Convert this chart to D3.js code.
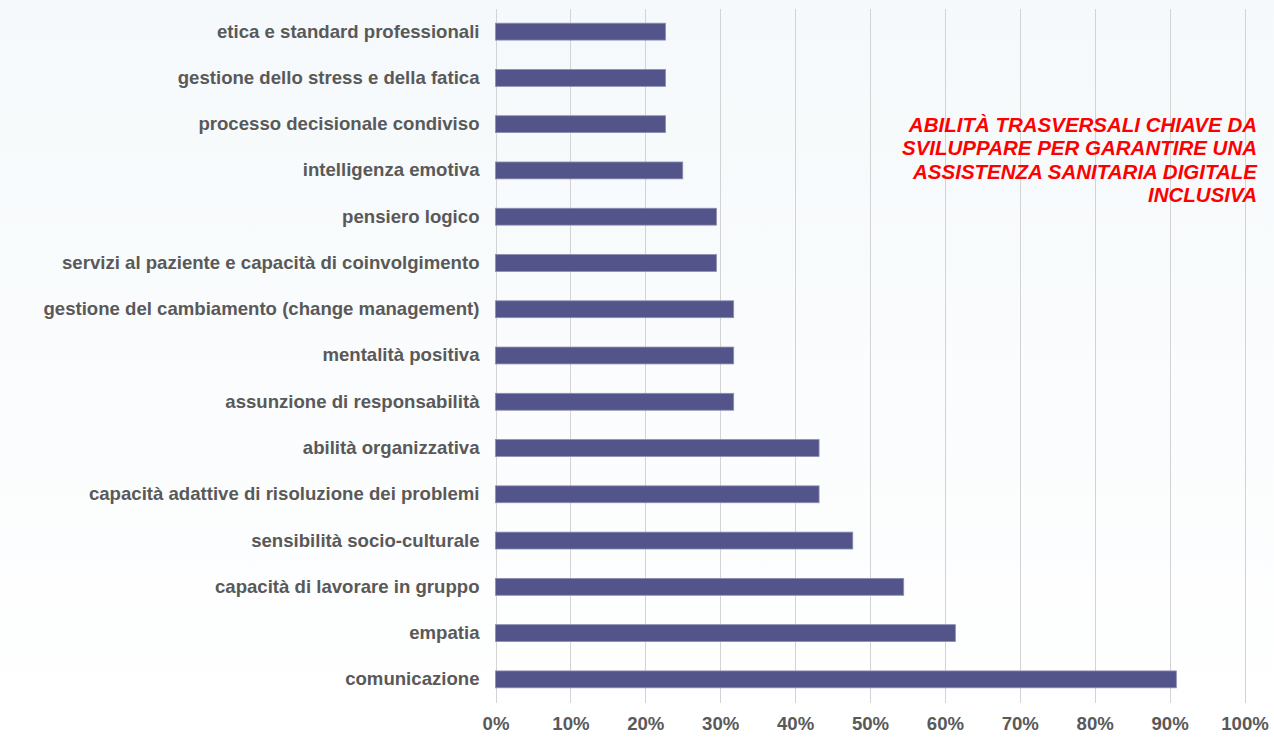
<!DOCTYPE html>
<html><head><meta charset="utf-8">
<script src="https://cdn.jsdelivr.net/npm/d3@7"></script>
<style>html,body{margin:0;padding:0;}body{width:1274px;height:738px;overflow:hidden;}</style>
</head><body>
<script>
const categories = [
  "etica e standard professionali",
  "gestione dello stress e della fatica",
  "processo decisionale condiviso",
  "intelligenza emotiva",
  "pensiero logico",
  "servizi al paziente e capacità di coinvolgimento",
  "gestione del cambiamento (change management)",
  "mentalità positiva",
  "assunzione di responsabilità",
  "abilità organizzativa",
  "capacità adattive di risoluzione dei problemi",
  "sensibilità socio-culturale",
  "capacità di lavorare in gruppo",
  "empatia",
  "comunicazione"
];
const values = [0.227, 0.227, 0.227, 0.25, 0.295, 0.295, 0.318, 0.318, 0.318, 0.432, 0.432, 0.477, 0.545, 0.614, 0.909];
const tickValues = [0,0.1,0.2,0.3,0.4,0.5,0.6,0.7,0.8,0.9,1.0];
const annotationLines = ["ABILITÀ TRASVERSALI CHIAVE DA","SVILUPPARE PER GARANTIRE UNA","ASSISTENZA SANITARIA DIGITALE","INCLUSIVA"];

const W = 1274, H = 738;
const svg = d3.select("body").append("svg").attr("width", W).attr("height", H);
const defs = svg.append("defs");
const grad = defs.append("linearGradient").attr("id","bg").attr("x1",0).attr("y1",0).attr("x2",0).attr("y2",1);
grad.append("stop").attr("offset","0%").attr("stop-color","#f5f9fb");
grad.append("stop").attr("offset","100%").attr("stop-color","#ffffff");
svg.append("rect").attr("width",W).attr("height",H).attr("fill","url(#bg)");

const x = d3.scaleLinear().domain([0,1]).range([495.5, 1244.5]);
const y = d3.scaleBand().domain(categories).range([8.5, 702.5]).paddingInner(0.635).paddingOuter(0.3175);

// gridlines
svg.append("g").selectAll("line").data(tickValues).join("line")
  .attr("x1", d => Math.round(x(d)) + 0.5).attr("x2", d => Math.round(x(d)) + 0.5)
  .attr("y1", 9).attr("y2", 703)
  .attr("stroke", "#d3d3d3").attr("stroke-width", 1);

// bars
svg.append("g").selectAll("rect").data(categories).join("rect")
  .attr("x", x(0)).attr("y", d => y(d))
  .attr("width", (d,i) => x(values[i]) - x(0))
  .attr("height", y.bandwidth())
  .attr("fill", "#53558a").attr("stroke", "#8c8db3").attr("stroke-width", 0.8);

// category labels
const yAxis = d3.axisLeft(y).tickSize(0).tickPadding(16);
const ya = svg.append("g").attr("transform", `translate(${x(0)},0)`).call(yAxis);
ya.select(".domain").remove();
ya.selectAll("text").attr("font-family","'Liberation Sans', Arial, sans-serif")
  .attr("font-size","18.6px").attr("font-weight","bold").attr("fill","#595959");

// x axis labels
const xAxis = d3.axisBottom(x).tickValues(tickValues).tickFormat(d3.format(".0%")).tickSize(0).tickPadding(0);
const xa = svg.append("g").attr("transform", `translate(0,717)`).call(xAxis);
xa.select(".domain").remove();
xa.selectAll("text").attr("font-family","'Liberation Sans', Arial, sans-serif")
  .attr("font-size","18.6px").attr("font-weight","bold").attr("fill","#595959").attr("dy","0.71em");

// annotation
svg.append("g").selectAll("text").data(annotationLines).join("text")
  .attr("x", 1257).attr("y", (d,i) => 132 + i*23.3)
  .attr("text-anchor","end")
  .attr("font-family","'Liberation Sans', Arial, sans-serif")
  .attr("font-size","20.5px").attr("font-weight","bold").attr("font-style","italic")
  .attr("fill","#ff0000").text(d => d);
</script>
</body></html>
